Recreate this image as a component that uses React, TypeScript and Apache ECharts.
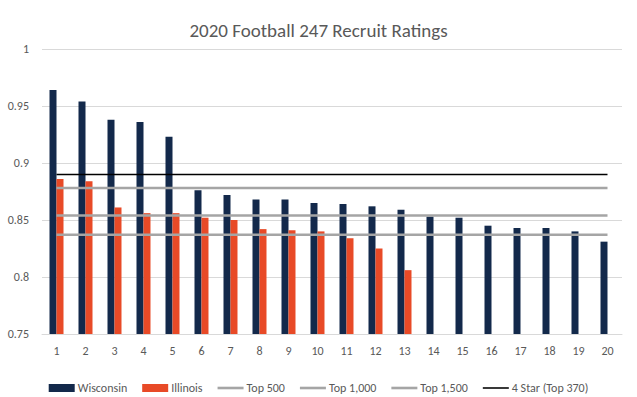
import React, { useEffect, useRef } from "react";
import * as echarts from "echarts";

const categories = ["1","2","3","4","5","6","7","8","9","10","11","12","13","14","15","16","17","18","19","20"];
const wisconsin = [0.964,0.954,0.938,0.936,0.923,0.876,0.872,0.868,0.868,0.865,0.864,0.862,0.859,0.853,0.852,0.845,0.843,0.843,0.840,0.831];
const illinois = [0.886,0.884,0.861,0.856,0.856,0.852,0.850,0.842,0.841,0.840,0.834,0.825,0.806];
const top500 = [0.878,0.878,0.878,0.878,0.878,0.878,0.878,0.878,0.878,0.878,0.878,0.878,0.878,0.878,0.878,0.878,0.878,0.878,0.878,0.878];
const top1000 = [0.854,0.854,0.854,0.854,0.854,0.854,0.854,0.854,0.854,0.854,0.854,0.854,0.854,0.854,0.854,0.854,0.854,0.854,0.854,0.854];
const top1500 = [0.837,0.837,0.837,0.837,0.837,0.837,0.837,0.837,0.837,0.837,0.837,0.837,0.837,0.837,0.837,0.837,0.837,0.837,0.837,0.837];
const fourStar = [0.890,0.890,0.890,0.890,0.890,0.890,0.890,0.890,0.890,0.890,0.890,0.890,0.890,0.890,0.890,0.890,0.890,0.890,0.890,0.890];

const FONT = "Carlito, Calibri, 'Open Sans', sans-serif";
const TXT = "#595959";
const GRAY_ICON = "path://M0,0 L100,0 L100,10 L0,10 Z";
const BLACK_ICON = "path://M0,0 L100,0 L100,6 L0,6 Z";

export default function App() {
  const ref = useRef<HTMLDivElement>(null);
  useEffect(() => {
    document.body.style.margin = "0";
    const chart = echarts.init(ref.current!, null, { renderer: "svg" });
    const lineSeries = (name: string, data: number[], color: string, width: number) => ({
      name,
      type: "line",
      data,
      symbol: "none",
      z: 5,
      lineStyle: { color, width },
      itemStyle: { color },
    });
    chart.setOption({
      animation: false,
      backgroundColor: "#ffffff",
      textStyle: { fontFamily: FONT },
      title: {
        text: "2020 Football 247 Recruit Ratings",
        left: "center",
        top: 16,
        textStyle: { fontFamily: FONT, fontSize: 19, fontWeight: "normal", color: TXT },
      },
      grid: { left: 42, right: 15, top: 49, bottom: 63, containLabel: false },
      legend: {
        left: "center",
        top: 377,
        itemWidth: 26,
        itemHeight: 8,
        itemGap: 15,
        textStyle: { fontFamily: FONT, fontSize: 12, color: TXT, padding: [0, 0, 0, -2] },
        data: [
          { name: "Wisconsin", icon: "rect" },
          { name: "Illinois", icon: "rect" },
          { name: "Top 500", icon: GRAY_ICON },
          { name: "Top 1,000", icon: GRAY_ICON },
          { name: "Top 1,500", icon: GRAY_ICON },
          { name: "4 Star (Top 370)", icon: BLACK_ICON },
        ],
      },
      xAxis: {
        type: "category",
        data: categories,
        axisLine: { lineStyle: { color: "#d9d9d9" } },
        axisTick: { show: false },
        axisLabel: { color: TXT, fontFamily: FONT, fontSize: 12, margin: 11 },
      },
      yAxis: {
        type: "value",
        min: 0.75,
        max: 1,
        interval: 0.05,
        axisLine: { show: false },
        axisTick: { show: false },
        axisLabel: { color: TXT, fontFamily: FONT, fontSize: 12, margin: 13 },
        splitLine: { lineStyle: { color: "#d9d9d9", width: 1 } },
      },
      series: [
        { name: "Wisconsin", type: "bar", data: wisconsin, barWidth: 7, barGap: "0%", itemStyle: { color: "#13294b" } },
        { name: "Illinois", type: "bar", data: illinois, barWidth: 7, barGap: "0%", itemStyle: { color: "#e84a27" } },
        lineSeries("Top 500", top500, "#a5a5a5", 2.5),
        lineSeries("Top 1,000", top1000, "#a5a5a5", 2.5),
        lineSeries("Top 1,500", top1500, "#a5a5a5", 2.5),
        lineSeries("4 Star (Top 370)", fourStar, "#000000", 1.5),
      ],
    });
    return () => chart.dispose();
  }, []);
  return (
    <div style={{ position: "relative", width: 637, height: 397, boxSizing: "border-box", border: "1px solid #d9d9d9", background: "#fff" }}>
      <div ref={ref} style={{ position: "absolute", left: -1, top: -1, width: 637, height: 397 }} />
    </div>
  );
}
